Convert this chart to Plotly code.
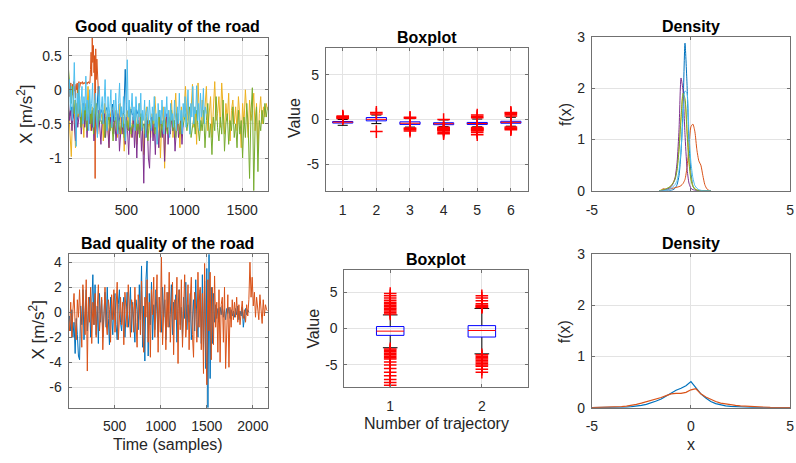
import numpy as np
import plotly.graph_objects as go

# ---------------- DATA ----------------
# Good road: six trajectories (values in m/s^2), each spanning [0, end] samples
good_1 = [-0.30,-0.38,-0.25,-0.42,-0.33,-0.20,-0.45,-0.36,-0.28,-0.50,-0.31,-0.40,-0.22,-0.37,-0.46,-0.30,-0.35,-0.55,-0.27,-0.39,
          -0.33,0.05,-0.41,-0.29,-0.36,-0.48,-0.32,-0.26,-0.44,-0.35,-0.38,-0.21,-0.47,-0.34,-0.30,-0.58,-0.36,-0.25,-0.40,-0.33,
          0.30,-0.39,-0.31,-0.45,-0.28,-0.37,-0.34,-0.52,-0.29,-0.36]
good_1_end = 600
good_2 = [0.00,-0.10,0.05,-0.05,0.10,-0.15,0.02,0.08,-0.08,0.12,-0.02,0.05,-0.12,0.08,0.00,0.10,-0.05,0.06,0.12,0.02,
          0.10,0.11,0.09,0.10,0.12,0.08,0.10,0.11,0.09,0.10,0.12,0.10,0.08,0.11,0.10,0.12,0.09,0.10,
          0.30,0.55,0.20,0.76,0.40,0.65,0.25,0.50,-1.30,0.60,0.15,0.45,0.30,0.05,-0.10]
good_2_end = 260
good_3 = [-0.25,-0.60,-0.98,-0.30,-0.15,-0.85,-0.20,-0.40,-0.10,-0.55,-0.30,-0.70,
          -0.20,-0.45,0.05,-0.35,-0.60,-0.25,-0.50,-0.15,-0.40,-0.65,-0.30,-0.45,
          -0.35,-0.75,-0.20,-0.50,-0.30,-0.85,-0.40,-0.25,-0.60,-0.45,-0.30,-0.70,
          -0.40,-0.20,-0.65,-0.35,-0.90,-0.45,-0.30,-0.55,-0.25,-0.70,-0.40,-0.50,
          -0.30,-0.80,-0.45,-0.20,-0.60,-0.35,-0.95,-0.40,-0.25,-0.55,-0.45,-0.70,
          -0.35,-0.60,-0.10,-0.50,-0.75,-0.30,-1.00,-0.45,-0.25,-1.15,-0.40,-0.60,
          -0.30,-0.55,-0.15,-0.70,-0.40,-0.05,-0.60,-0.35,-0.85,-0.25,-0.50,-0.30,
          0.05,-0.45,-0.20,-0.65,-0.30,0.08,-0.55,-0.25,-0.80,0.10,-0.40,-0.60,
          -0.15,-0.50,-0.25,0.05,-0.60,-0.30,-0.10,-0.70,-0.20,0.12,-0.45,-0.35,
          -0.10,-0.55,0.10,-0.30,-0.65,-0.20,-0.45,-0.05,-0.75,-0.30,-0.15,-0.50,
          -0.25,-0.60,-0.10,-0.40,-0.85,-0.20,-0.50,0.00,-0.35,-0.70,-0.15,-0.45,
          -0.30,-0.05,-0.60,-0.20,-0.90,-0.35,-0.10,-0.50,-0.25,-0.40,-0.20,-0.30]
good_3_end = 1720
good_4 = [-0.20,-0.45,-0.30,-0.60,-0.25,-0.50,-0.75,-0.35,-0.55,-0.40,
          -0.30,-0.65,-0.45,-0.20,-0.55,-0.35,-0.70,-0.40,-0.50,-0.30,
          -0.60,-0.40,-0.75,-0.35,-0.50,-0.65,-0.30,-0.55,-0.80,-0.45,
          -0.50,-0.35,-0.70,-0.45,-0.60,-0.85,-0.40,-0.55,-0.30,-0.65,
          -0.45,-0.75,-0.50,-0.35,-0.90,-0.55,-0.40,-0.65,-0.50,-0.80,
          -0.40,-0.60,-0.95,-0.45,-0.55,-0.70,-0.35,-0.85,-0.50,-1.00,
          -0.45,-0.65,-0.40,-0.90,-0.55,-1.37,-0.50,-0.70,-0.45,-1.00,
          -1.15,-0.55,-0.40,-0.75,-0.50,-0.95,-0.45,-0.60,-0.85,-0.40,
          -0.55,-0.70,-0.45,-1.05,-0.50,-0.35,-0.80,-0.55,-0.65,-0.40,
          -0.60,-0.45,-0.90,-0.50,-0.35,-0.70,-0.55,-0.45,-0.80,-0.50]
good_4_end = 990
good_5 = [0.30,0.10,-0.20,0.05,-0.35,-0.15,-0.40,0.00,-0.30,-0.55,-0.20,-0.45,
          -0.25,-0.60,-0.35,-0.10,-0.50,-0.30,-0.65,-0.40,-0.20,-0.55,-0.35,-0.45,
          -0.50,-0.30,-0.70,-0.40,-0.55,-0.35,-0.60,-0.45,-0.75,-0.50,-0.40,-0.60,
          -0.45,-0.65,-0.50,-0.40,-0.70,-0.55,-0.45,-0.60,-0.35,-0.65,-0.50,-0.55,
          -0.40,-0.60,-0.45,-0.70,-0.35,-0.55,-0.50,-0.65,-0.40,-0.75,-0.45,-0.55,
          -0.50,-0.35,-0.65,-0.45,-0.55,-0.30,-0.70,-0.45,-0.60,-0.40,-0.50,-0.65,
          -0.40,-0.55,-0.30,-0.60,-0.45,-0.70,-0.35,-0.50,-0.65,-0.40,-0.55,-0.45,
          -0.35,-0.60,-0.45,-0.25,-0.70,-0.50,-0.40,-0.65,-0.30,-0.55,-0.75,-0.45,
          -0.60,-0.30,-0.85,-0.45,-0.20,-0.70,-0.50,-0.95,-0.40,-0.60,-0.10,-0.55,
          -0.75,-0.40,-0.65,-0.15,-0.90,-0.50,-0.35,-0.80,-0.45,-0.60,-0.25,-0.70,
          -0.50,-0.85,-0.30,-0.65,-0.45,-1.00,-0.40,-0.70,-0.20,-0.55,-1.30,-0.35,
          0.03,-1.48,-0.50,-0.25,-1.20,-0.45,-0.60,-0.30,-0.50,-0.20,-0.40,-0.25]
good_5_end = 1720
good_6 = [-0.10,0.15,-0.30,0.05,-0.45,-0.15,0.40,-0.25,-0.83,-0.05,-0.35,0.10,
          -0.40,-0.20,0.05,-0.50,-0.10,-0.30,0.20,-0.45,-0.15,-0.60,0.00,-0.35,
          -0.20,0.10,-0.55,-0.25,-0.05,-0.40,-0.70,-0.15,0.05,-0.45,-0.30,-0.10,
          -0.50,-0.20,0.15,-0.35,-0.60,-0.10,-0.40,-0.25,0.00,-0.55,-0.30,-0.15,
          -0.45,-0.05,-0.35,-0.65,-0.20,0.10,-0.40,-0.25,-0.55,-0.10,-0.35,-0.75,
          -0.20,0.44,-0.40,-0.15,-0.55,-0.30,-0.05,-0.45,-0.25,-0.60,-0.10,-0.35,
          -0.50,-0.20,-0.40,-0.05,-0.60,-0.30,-0.45,-0.15,-0.70,-0.35,-0.25,-0.50,
          -0.15,-0.40,-0.60,-0.25,-0.45,-0.10,-0.55,-0.35,-0.80,-0.20,-0.40,-0.30,
          -0.50,-0.15,-0.45,-0.65,-0.25,-0.40,-0.10,-0.55,-0.30,-0.70,-0.20,-0.45,
          -0.35,-0.55,-0.15,-0.40,-0.60,-0.25,-0.50,-0.05,-0.45,-0.30,-0.65,-0.20,
          -0.40,-0.10,-0.55,-0.30,0.00,-0.45,-0.65,-0.20,-0.40,0.05,-0.50,-0.25,
          -0.35,0.06,-0.45,-0.20,-0.60,-0.05,-0.40,-0.30,0.02,-0.50,-0.25,-0.35]
good_6_end = 1190

# Bad road: two trajectories
bad_1 = [-1.0,-0.3,-1.5,0.2,-2.0,-0.8,-3.3,-0.5,-1.8,-3.5,
         -3.8,0.5,-1.0,1.8,-2.2,0.3,1.8,-1.5,-0.2,1.2,
         -2.0,0.8,3.0,-1.0,2.2,-1.8,0.5,-2.5,1.5,-0.8,
         1.0,-2.0,0.2,1.6,-1.2,2.0,-0.5,-2.6,1.2,-0.3,
         -1.8,0.8,1.5,-1.0,-2.2,0.6,1.8,-0.8,-1.5,0.4,
         1.2,-2.0,0.0,1.6,-1.2,-0.2,2.0,-1.6,0.8,-0.5,
         -2.4,1.0,0.2,-1.4,2.2,-0.6,3.7,-2.8,0.5,-3.9,
         2.6,4.1,-3.5,1.5,-1.0,2.4,-2.2,0.6,-1.4,1.8,
         -0.8,-2.0,1.2,0.2,-1.6,2.0,-0.4,1.0,-2.2,0.5,
         1.6,-1.2,-0.2,2.2,-1.8,0.8,-0.6,1.4,-2.4,0.3,
         1.8,-1.0,0.4,-2.0,1.2,-0.5,2.4,-1.4,0.6,-0.8,
         1.5,-2.2,0.2,1.0,-1.5,2.6,-0.6,-2.0,0.8,1.8,
         -2.5,3.0,-3.0,2.5,-4.5,3.5,-7.63,4.64,-5.3,2.0,
         -2.5,1.5,-0.8,0.6,-0.5,0.3,-0.8,0.4,-0.2,0.5,
         -0.4,0.2,-0.6,0.3,-0.1,0.4,-0.5,0.2,-0.3,0.1,
         -0.4,0.3,-0.2,0.5,-0.6,0.1,-0.3,0.4,-1.2,-0.5,
         0.3,-0.2,0.2,0.0]
bad_1_end = 1956
bad_2 = [-0.5,-1.5,0.8,-2.0,0.2,1.5,-1.0,-2.2,1.0,-0.4,
         1.8,-1.2,-2.8,2.2,0.5,-1.8,2.6,-4.7,1.2,-0.8,
         2.0,-2.5,0.8,-1.0,1.5,-2.0,0.4,2.2,-1.5,-0.2,
         1.2,-3.0,0.6,2.0,-0.8,-1.8,1.0,0.2,-2.4,1.4,
         -0.6,1.8,-1.6,0.5,2.4,-2.2,-0.2,1.2,-1.0,0.8,
         -2.6,1.6,0.2,-1.2,2.2,-0.6,-2.0,1.0,0.4,-1.6,
         2.0,-0.8,-2.8,1.4,0.6,-1.8,2.5,-1.0,-3.2,1.2,
         -0.4,2.6,-2.4,0.8,-3.6,1.8,-0.2,2.8,-2.0,0.4,
         3.0,-3.2,1.2,-1.6,4.4,-2.6,0.6,2.2,-3.0,1.6,
         -1.2,3.2,-2.4,0.8,2.4,-3.4,1.0,-0.6,2.8,-4.1,
         1.8,-1.4,2.6,-2.8,0.4,3.0,-2.0,-0.6,2.2,-3.0,
         1.0,2.8,-1.8,-3.6,1.6,0.2,-2.4,3.2,-1.2,2.0,
         -3.0,1.5,-4.9,3.9,-2.0,-5.8,2.6,-1.5,3.2,-3.8,
         2.0,-2.6,2.9,-1.2,0.8,-3.2,1.8,-4.0,0.6,1.2,
         -2.4,2.0,-4.5,-0.8,1.4,-4.4,0.4,-1.2,1.0,-0.6,
         0.8,-0.4,1.2,-0.8,0.6,-1.0,0.4,0.9,-0.5,0.2,
         -0.8,0.6,-0.3,1.0,4.0,1.2,2.8,0.5,1.6,-0.4,
         1.2,0.2,-0.6,1.4,0.0,-0.9,1.0,-0.3,0.6,0.2,
         0.1]
bad_2_end = 2160

# Boxplot statistics (good road, trajectories 1..6)
good_q1 = [-0.40, -0.15, -0.55, -0.58, -0.55, -0.42]
good_med = [-0.30, 0.02, -0.42, -0.47, -0.45, -0.32]
good_q3 = [-0.22, 0.22, -0.26, -0.36, -0.33, -0.20]
good_wlo = [-0.65, -0.46, -0.85, -0.80, -0.82, -0.75]
good_whi = [0.00, 0.50, 0.10, -0.05, 0.05, 0.25]
good_out = [[0.10, 0.18, 0.25, 0.32, 0.40],
            [0.62, 0.80, -1.36],
            [0.15, 0.24, -0.95, -1.05, -1.15, -1.30],
            [0.0, -0.88, -0.95, -1.00, -1.05, -1.10, -1.15, -1.20, -1.30, -1.45, -1.60],
            [0.20, 0.35, 0.50, -0.90, -0.98, -1.05, -1.10, -1.15, -1.20, -1.30, -1.45, -1.70],
            [0.40, 0.55, 0.70, 0.80, -0.85, -0.95, -1.05, -1.15]]

# Boxplot statistics (bad road, trajectories 1..2)
bad_q1 = [-0.94, -1.17]
bad_med = [-0.36, -0.27]
bad_q3 = [0.27, 0.40]
bad_wlo = [-2.64, -3.48]
bad_whi = [1.87, 2.76]
bad_out = [[2.0, 2.2, 2.4, 2.6, 2.8, 3.0, 3.2, 3.4, 3.6, 3.9, 4.2, 4.5, 4.8,
            -2.8, -3.0, -3.2, -3.4, -3.6, -3.8, -4.0, -4.2, -4.6, -5.0, -5.5, -6.0, -6.5, -7.0, -7.4, -7.8],
           [2.9, 3.0, 3.1, 3.2, 3.4, 3.8, 4.2, 4.5,
            -3.6, -3.8, -4.0, -4.2, -4.4, -4.6, -4.8, -5.0, -5.2, -5.6, -6.0]]

# Kernel density estimates (good road)
dens_good_x = [-1.6,-1.5,-1.4,-1.3,-1.2,-1.1,-1.0,-0.9,-0.8,-0.7,-0.6,-0.5,-0.4,-0.3,-0.2,-0.1,0.0,0.1,0.2,0.3,0.4,0.5,0.6,0.7,0.8,0.9,1.0]
dens_good = [
    [0,0,0,0,0,0,0.01,0.02,0.05,0.12,0.30,0.75,1.60,2.88,2.10,0.95,0.35,0.10,0.03,0.01,0,0,0,0,0,0,0],
    [0,0.01,0.04,0.03,0.02,0.03,0.04,0.05,0.06,0.07,0.08,0.10,0.14,0.22,0.45,0.85,1.25,1.30,1.15,0.80,0.58,0.50,0.30,0.12,0.04,0.01,0],
    [0,0.01,0.02,0.03,0.04,0.06,0.10,0.16,0.25,0.45,0.85,1.45,1.85,1.75,1.20,0.60,0.25,0.10,0.04,0.02,0.01,0,0,0,0,0,0],
    [0,0,0.01,0.02,0.03,0.05,0.08,0.14,0.25,0.55,1.20,2.20,1.95,1.10,0.45,0.15,0.05,0.02,0.01,0,0,0,0,0,0,0,0],
    [0,0.01,0.02,0.03,0.05,0.07,0.10,0.15,0.22,0.40,0.80,1.40,1.90,1.80,1.15,0.55,0.22,0.08,0.03,0.01,0,0,0,0,0,0,0],
    [0,0,0,0.01,0.02,0.03,0.05,0.08,0.12,0.20,0.40,0.80,1.40,1.95,1.90,1.10,0.55,0.25,0.10,0.05,0.02,0.01,0,0,0,0,0],
]
# Kernel density estimates (bad road)
dens_bad_x = [-5,-4.75,-4.5,-4.25,-4,-3.75,-3.5,-3.25,-3,-2.75,-2.5,-2.25,-2,-1.75,-1.5,-1.25,-1,-0.75,-0.5,-0.25,
              0,0.25,0.5,0.75,1,1.25,1.5,1.75,2,2.25,2.5,2.75,3,3.25,3.5,3.75,4,4.25,4.5,4.75,5]
dens_bad = [
    [0,0,0,0,0.002,0.004,0.008,0.012,0.02,0.03,0.045,0.065,0.09,0.13,0.17,0.23,0.29,0.34,0.38,0.43,
     0.51,0.40,0.27,0.19,0.12,0.08,0.05,0.035,0.025,0.018,0.012,0.008,0.005,0.003,0.002,0.001,0,0,0,0,0],
    [0.002,0.003,0.005,0.007,0.01,0.015,0.02,0.03,0.045,0.065,0.09,0.115,0.14,0.17,0.20,0.235,0.27,0.28,0.28,0.30,
     0.35,0.37,0.27,0.21,0.16,0.12,0.09,0.07,0.055,0.045,0.035,0.028,0.02,0.015,0.01,0.007,0.005,0.003,0.002,0.001,0],
]

# Text
titles = ["Good quality of the road", "Boxplot", "Density", "Bad quality of the road", "Boxplot", "Density"]

# ---------------- STYLE / LAYOUT ----------------
W, H = 796, 463
COLORS = ["#0072BD", "#D95319", "#EDB120", "#7E2F8E", "#77AC30", "#4DBEEE"]
FONT = "Liberation Sans, Arial, Helvetica, sans-serif"
AX_COLOR = "#262626"
FRAME = "#707070"
GRID = "#e3e3e3"

def px_x(a, b):
    return [a / W, b / W]

def px_y(top, bottom):
    return [1 - bottom / H, 1 - top / H]

fig = go.Figure()

# Top-left time series
good = [(good_1, good_1_end), (good_2, good_2_end), (good_3, good_3_end),
        (good_4, good_4_end), (good_5, good_5_end), (good_6, good_6_end)]
for i, (vals, end) in enumerate(good):
    fig.add_trace(go.Scatter(x=np.linspace(0, end, len(vals)), y=vals, mode="lines",
                             line=dict(color=COLORS[i], width=1), xaxis="x", yaxis="y",
                             showlegend=False, hoverinfo="skip"))

# Bottom-left time series
bad = [(bad_1, bad_1_end), (bad_2, bad_2_end)]
for i, (vals, end) in enumerate(bad):
    fig.add_trace(go.Scatter(x=np.linspace(0, end, len(vals)), y=vals, mode="lines",
                             line=dict(color=COLORS[i], width=1), xaxis="x4", yaxis="y4",
                             showlegend=False, hoverinfo="skip"))

def add_boxes(q1, med, q3, wlo, whi, outs, hw, cap, xa, ya):
    n = len(q1)
    bx, by, mx, my, wx, wy, ox, oy = [], [], [], [], [], [], [], []
    for k in range(n):
        p = k + 1
        bx += [p - hw, p + hw, p + hw, p - hw, p - hw, None]
        by += [q1[k], q1[k], q3[k], q3[k], q1[k], None]
        mx += [p - hw, p + hw, None]
        my += [med[k], med[k], None]
        wx += [p, p, None, p, p, None, p - cap, p + cap, None, p - cap, p + cap, None]
        wy += [q3[k], whi[k], None, q1[k], wlo[k], None, whi[k], whi[k], None, wlo[k], wlo[k], None]
        ox += [p] * len(outs[k])
        oy += outs[k]
    fig.add_trace(go.Scatter(x=wx, y=wy, mode="lines", line=dict(color="black", width=1),
                             xaxis=xa, yaxis=ya, showlegend=False, hoverinfo="skip"))
    fig.add_trace(go.Scatter(x=bx, y=by, mode="lines", line=dict(color="#0000FF", width=1),
                             xaxis=xa, yaxis=ya, showlegend=False, hoverinfo="skip"))
    fig.add_trace(go.Scatter(x=mx, y=my, mode="lines", line=dict(color="#FF0000", width=1),
                             xaxis=xa, yaxis=ya, showlegend=False, hoverinfo="skip"))
    fig.add_trace(go.Scatter(x=ox, y=oy, mode="markers",
                             marker=dict(symbol="cross-thin", size=9, color="#FF0000",
                                         line=dict(color="#FF0000", width=1.5)),
                             xaxis=xa, yaxis=ya, showlegend=False, hoverinfo="skip"))

add_boxes(good_q1, good_med, good_q3, good_wlo, good_whi, good_out, 0.3, 0.15, "x2", "y2")
add_boxes(bad_q1, bad_med, bad_q3, bad_wlo, bad_whi, bad_out, 0.15, 0.08, "x5", "y5")

for i, d in enumerate(dens_good):
    fig.add_trace(go.Scatter(x=dens_good_x, y=d, mode="lines", line=dict(color=COLORS[i], width=1, shape="spline", smoothing=0.6),
                             xaxis="x3", yaxis="y3", showlegend=False, hoverinfo="skip"))
for i, d in enumerate(dens_bad):
    fig.add_trace(go.Scatter(x=dens_bad_x, y=d, mode="lines", line=dict(color=COLORS[i], width=1.2),
                             xaxis="x6", yaxis="y6", showlegend=False, hoverinfo="skip"))

def fmt(v):
    return f"{v:g}"

def axis(domain, rng, tickvals, anchor, standoff=3):
    return dict(domain=domain, range=rng, anchor=anchor, tickmode="array", tickvals=tickvals,
                ticktext=[fmt(v) for v in tickvals], showline=True, linecolor=FRAME, linewidth=1,
                mirror="ticks", ticks="inside", ticklen=3, tickcolor=FRAME, showgrid=True,
                gridcolor=GRID, gridwidth=1, zeroline=False, ticklabelstandoff=standoff,
                ticklabeloverflow="allow",
                tickfont=dict(family=FONT, size=14, color=AX_COLOR))

good_all = [v for s, _ in good for v in s]
bad_all = [v for s, _ in bad for v in s]

fig.update_layout(
    width=W, height=H, margin=dict(l=0, r=0, t=0, b=0),
    paper_bgcolor="white", plot_bgcolor="white", showlegend=False,
    xaxis=axis(px_x(63.3, 265), [0, max(good_3_end, good_5_end)], [500, 1000, 1500], "y", 6),
    yaxis=axis(px_y(31, 189.3), [min(good_all), max(good_all)], [-1, -0.5, 0, 0.5], "x"),
    xaxis2=axis(px_x(324, 528.3), [0.5, 6.5], [1, 2, 3, 4, 5, 6], "y2", 6),
    yaxis2=axis(px_y(41.7, 189.3), [-8, 8], [-5, 0, 5], "x2"),
    xaxis3=axis(px_x(593.3, 794), [-5, 5], [-5, 0, 5], "y3", 6),
    yaxis3=axis(px_y(30, 189.3), [0, 3], [0, 1, 2, 3], "x3"),
    xaxis4=axis(px_x(63.3, 265), [0, bad_2_end], [500, 1000, 1500, 2000], "y4", 6),
    yaxis4=axis(px_y(255, 414), [min(bad_all), max(bad_all)], [-6, -4, -2, 0, 2, 4], "x4"),
    xaxis5=axis(px_x(342.7, 528.3), [0.5, 2.5], [1, 2], "y5", 6),
    yaxis5=axis(px_y(271.7, 392.3), [-8, 8], [-5, 0, 5], "x5"),
    xaxis6=axis(px_x(593.3, 794), [-5, 5], [-5, 0, 5], "y6", 6),
    yaxis6=axis(px_y(255, 414), [0, 3], [0, 1, 2, 3], "x6"),
)

def ann(text, x, y, size=16, bold=False, angle=0, color="#000000"):
    fig.add_annotation(text=f"<b>{text}</b>" if bold else text, x=x / W, y=1 - y / H,
                       xref="paper", yref="paper", xanchor="center", yanchor="middle",
                       showarrow=False, textangle=angle,
                       font=dict(family=FONT, size=size, color=color))

title_pos = [(164, 19), (426.5, 30.7), (693.7, 19.3), (164, 244), (435.5, 260), (693.7, 244)]
for t, (x, y) in zip(titles, title_pos):
    ann(t, x, y, bold=True)

ann("X [m/s<sup>2</sup>]", 19, 110, size=17, angle=-90, color=AX_COLOR)
ann("Value", 291.5, 114, angle=-90, color=AX_COLOR)
ann("f(x)", 566, 110, angle=-90, color=AX_COLOR)
ann("X [m/s<sup>2</sup>]", 31.5, 333, size=17, angle=-90, color=AX_COLOR)
ann("Value", 311, 332, angle=-90, color=AX_COLOR)
ann("f(x)", 566, 335, angle=-90, color=AX_COLOR)
ann("Time (samples)", 164, 451.7, color=AX_COLOR)
ann("Number of trajectory", 435.5, 430, color=AX_COLOR)
ann("x", 693.7, 451.7, color=AX_COLOR)

fig.write_html("out.html")
